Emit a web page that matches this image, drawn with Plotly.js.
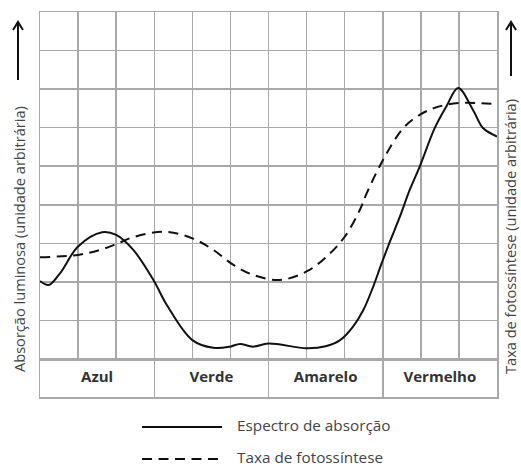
<!DOCTYPE html>
<html>
<head>
<meta charset="utf-8">
<script src="https://cdn.plot.ly/plotly-3.0.1.min.js"></script>
<style>html,body{margin:0;padding:0;background:#fff;}#chart{width:521px;height:467px;}</style>
</head>
<body>
<div id="chart"></div>
<script>
// Absorption spectrum (solid)
const xAbs = [0, 0.23, 0.53, 1.0, 1.63, 2.0, 2.45, 3.0, 3.33, 4.0, 4.55, 4.99, 5.25, 5.59, 6.0, 7.0, 7.5, 7.88, 8.22, 8.49, 8.75, 8.97, 9.19, 9.45, 9.71, 9.97, 10.37, 10.67, 10.98, 11.37, 11.63, 11.9, 12.0];
const yAbs = [2.02, 1.92, 2.23, 2.92, 3.29, 3.22, 2.83, 2.01, 1.40, 0.49, 0.29, 0.32, 0.39, 0.32, 0.40, 0.28, 0.33, 0.49, 0.84, 1.27, 1.88, 2.48, 3.05, 3.69, 4.39, 4.99, 6.0, 6.55, 7.03, 6.46, 5.99, 5.82, 5.77];
// Photosynthesis rate (dashed)
const xPhoto = [0, 1.0, 1.58, 2.0, 2.45, 3.29, 4.0, 4.55, 5.08, 5.6, 6.3, 7.0, 7.53, 8.0, 8.4, 8.58, 9.01, 9.54, 9.97, 10.41, 11.02, 12.0];
const yPhoto = [2.64, 2.70, 2.83, 2.98, 3.16, 3.30, 3.13, 2.83, 2.44, 2.18, 2.05, 2.27, 2.66, 3.17, 3.87, 4.30, 5.17, 5.99, 6.33, 6.53, 6.64, 6.61];
// Colour bands
const bandLabels = ["Azul", "Verde", "Amarelo", "Vermelho"];
const bandCenters = [1.5, 4.5, 7.5, 10.5];
const bandEdges = [0, 3, 6, 9, 12];
const seriesNames = ["Espectro de absorção", "Taxa de fotossíntese"];
const yTitleLeft = "Absorção luminosa (unidade arbitrária)";
const yTitleRight = "Taxa de fotossíntese (unidade arbitrária)";

const W = 521, H = 467;
const M = {l: 40, r: 24, t: 12, b: 70};
const PW = W - M.l - M.r, PH = H - M.t - M.b;
const px = x => (x - M.l) / PW;
const py = y => (H - M.b - y) / PH;

const gridColor = "#a9a9a9";
const textColor = "#444";
const font = "Open Sans, Noto Sans, sans-serif";
const dashPat = "10px,6.5px";

const traces = [
  {x: xAbs, y: yAbs, name: seriesNames[0], type: "scatter", mode: "lines",
   line: {color: "#111", width: 2, shape: "spline", smoothing: 1}, xaxis: "x", yaxis: "y", hoverinfo: "skip"},
  {x: xPhoto, y: yPhoto, name: seriesNames[1], type: "scatter", mode: "lines",
   line: {color: "#111", width: 2, dash: dashPat, shape: "spline", smoothing: 1}, xaxis: "x", yaxis: "y", hoverinfo: "skip"},
  {x: bandCenters, y: bandCenters.map(() => 0.5), text: bandLabels, type: "scatter", mode: "text",
   textfont: {family: font, size: 15, color: "#333", weight: "bold"}, xaxis: "x2", yaxis: "y2", hoverinfo: "skip"}
];

const bandFrac = 38 / PH;
const axBase = {showgrid: true, gridcolor: gridColor, gridwidth: 1.5, zeroline: false,
  showline: true, mirror: true, linecolor: gridColor, linewidth: 1.5, showticklabels: false, ticks: "", fixedrange: true};

function arrowPath(xc, yTop, yBot) {
  const x = px(xc), t = py(yTop), b = py(yBot);
  const dx = 5 / PW, dy = 8 / PH;
  return `M ${x} ${b} L ${x} ${t} M ${x - dx} ${t - dy} L ${x} ${t} L ${x + dx} ${t - dy}`;
}

const shapes = [
  {type: "path", xref: "paper", yref: "paper", path: arrowPath(18, 22, 80), line: {color: "#111", width: 2}},
  {type: "path", xref: "paper", yref: "paper", path: arrowPath(511, 22, 76), line: {color: "#111", width: 2}},
  {type: "line", xref: "paper", yref: "paper", x0: px(142), x1: px(222), y0: py(427), y1: py(427), line: {color: "#111", width: 2}},
  {type: "line", xref: "paper", yref: "paper", x0: px(142), x1: px(222), y0: py(459), y1: py(459), line: {color: "#111", width: 2, dash: dashPat}}
];

const annotations = [
  {text: yTitleLeft, xref: "paper", yref: "paper", x: px(19), y: py(239), textangle: -90, showarrow: false,
   xanchor: "center", yanchor: "middle", font: {family: font, size: 14.6, color: textColor}},
  {text: yTitleRight, xref: "paper", yref: "paper", x: px(510), y: py(237), textangle: -90, showarrow: false,
   xanchor: "center", yanchor: "middle", font: {family: font, size: 14.6, color: textColor}},
  {text: seriesNames[0], xref: "paper", yref: "paper", x: px(235), y: py(425), showarrow: false,
   xanchor: "left", yanchor: "middle", font: {family: font, size: 15.3, color: textColor}},
  {text: seriesNames[1], xref: "paper", yref: "paper", x: px(235), y: py(457), showarrow: false,
   xanchor: "left", yanchor: "middle", font: {family: font, size: 15.3, color: textColor}}
];

const layout = {
  width: W, height: H, margin: M, paper_bgcolor: "#fff", plot_bgcolor: "#fff",
  showlegend: false,
  xaxis: Object.assign({}, axBase, {range: [0, 12], dtick: 1, tick0: 0, anchor: "y"}),
  yaxis: Object.assign({}, axBase, {range: [0, 9], dtick: 1, tick0: 0, domain: [bandFrac, 1], anchor: "x"}),
  xaxis2: Object.assign({}, axBase, {range: [0, 12], tickmode: "array", tickvals: bandEdges, anchor: "y2"}),
  yaxis2: Object.assign({}, axBase, {range: [0, 1], showgrid: false, domain: [0, bandFrac], anchor: "x2"}),
  shapes: shapes,
  annotations: annotations
};

Plotly.newPlot("chart", traces, layout, {staticPlot: true, displayModeBar: false});
</script>
</body>
</html>
